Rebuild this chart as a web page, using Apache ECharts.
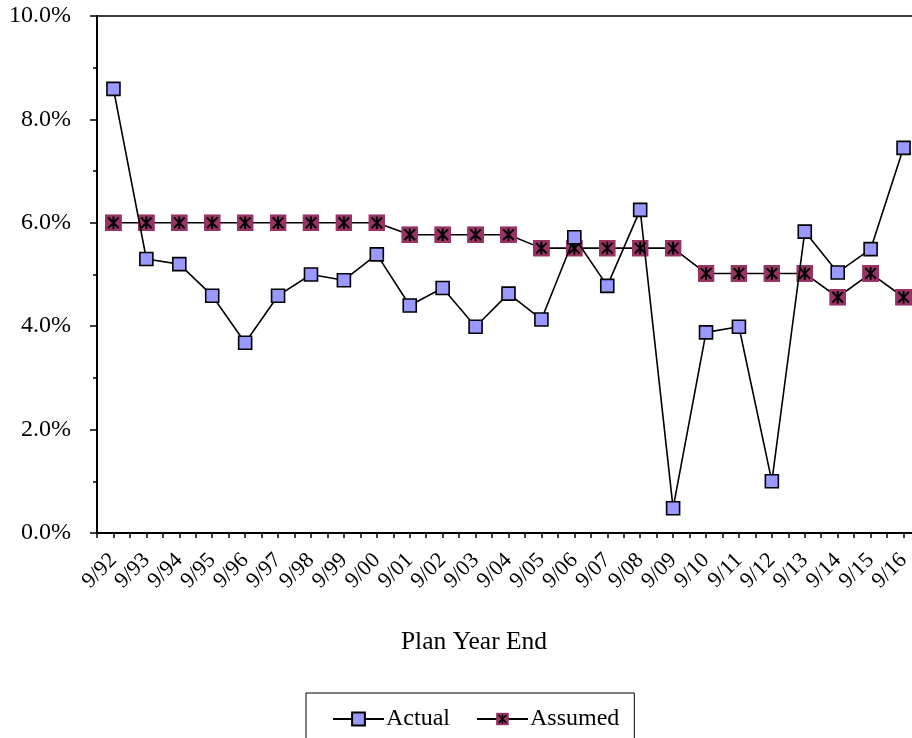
<!DOCTYPE html>
<html>
<head>
<meta charset="utf-8">
<script src="https://cdn.jsdelivr.net/npm/echarts@6/dist/echarts.min.js"></script>
<style>
  html, body { margin: 0; padding: 0; background: #fff; }
  #chart { width: 912px; height: 738px; }
</style>
</head>
<body>
<div id="chart"></div>
<script>
// Plan year ends, 9/92 through 9/16
const planYears = ['9/92','9/93','9/94','9/95','9/96','9/97','9/98','9/99','9/00','9/01',
  '9/02','9/03','9/04','9/05','9/06','9/07','9/08','9/09','9/10','9/11','9/12','9/13',
  '9/14','9/15','9/16'];

// Actual returns (%)
const actualReturns = [8.59, 5.30, 5.20, 4.59, 3.68, 4.59, 5.00, 4.89, 5.39, 4.40,
  4.74, 3.99, 4.63, 4.13, 5.72, 4.78, 6.25, 0.48, 3.88, 3.99, 1.00, 5.83,
  5.04, 5.49, 7.45];

// Assumed rates (%)
const assumedRates = [6.00, 6.00, 6.00, 6.00, 6.00, 6.00, 6.00, 6.00, 6.00, 5.77,
  5.77, 5.77, 5.77, 5.51, 5.51, 5.51, 5.51, 5.51, 5.02, 5.02, 5.02, 5.02,
  4.56, 5.02, 4.56];

const seriesNames = ['Actual', 'Assumed'];
const axisTitle = 'Plan Year End';

const FONT = '"Liberation Serif", "Times New Roman", serif';

// Maroon square with a black asterisk drawn over it
const assumedSvg = "<svg xmlns='http://www.w3.org/2000/svg' width='34' height='34' viewBox='0 0 17 17'>" +
  "<rect x='0' y='0' width='17' height='17' fill='#993366'/>" +
  "<path d='M3.2 3.2L13.8 13.8M13.8 3.2L3.2 13.8M8.5 2.2V14.8' stroke='#000' stroke-width='2' fill='none'/>" +
  "</svg>";
const assumedSymbol = 'image://data:image/svg+xml;charset=utf-8,' + encodeURIComponent(assumedSvg);

const chart = echarts.init(document.getElementById('chart'), null, { renderer: 'canvas' });

chart.setOption({
  backgroundColor: '#fff',
  animation: false,
  textStyle: { fontFamily: FONT, color: '#000' },
  grid: {
    // the plot area runs a little past the right edge of the canvas
    left: 97, top: 16, width: 823, bottom: 205,
    outerBoundsMode: 'none',
    containLabel: false,
    show: true, borderColor: '#000', borderWidth: 1.5, backgroundColor: 'transparent'
  },
  title: {
    text: axisTitle,
    left: 469, top: 624, textAlign: 'center',
    textStyle: { fontFamily: FONT, fontSize: 25.5, fontWeight: 'normal', color: '#000' }
  },
  legend: {
    data: seriesNames,
    left: 306, top: 693,
    padding: [14, 15, 20, 26],
    itemGap: 26,
    itemWidth: 51, itemHeight: 16,
    borderColor: '#000', borderWidth: 1,
    backgroundColor: '#fff',
    textStyle: { fontFamily: FONT, fontSize: 24, color: '#000', padding: [0, 0, 0, -3] }
  },
  xAxis: [
    {
      type: 'category',
      data: planYears,
      boundaryGap: true,
      axisLine: { lineStyle: { color: '#000', width: 2 } },
      axisTick: { show: true, interval: 0, length: 5, lineStyle: { color: '#000', width: 1.5 } },
      axisLabel: {
        interval: 0, rotate: 45, margin: 24,
        fontFamily: FONT, fontSize: 22, color: '#000'
      },
      splitLine: { show: false }
    },
    {
      // second copy of the category axis: ticks centred on each category
      type: 'category',
      data: planYears,
      position: 'bottom',
      boundaryGap: true,
      axisLine: { show: false },
      axisTick: { show: true, alignWithLabel: true, interval: 0, length: 5, lineStyle: { color: '#000', width: 1.5 } },
      axisLabel: { show: false },
      splitLine: { show: false }
    }
  ],
  yAxis: {
    type: 'value',
    min: 0, max: 10, interval: 2,
    axisLine: { show: true, lineStyle: { color: '#000', width: 2 } },
    axisTick: { show: true, length: 7, lineStyle: { color: '#000', width: 1.5 } },
    minorTick: { show: true, splitNumber: 2, length: 4, lineStyle: { color: '#000', width: 1.5 } },
    axisLabel: {
      margin: 26,
      fontFamily: FONT, fontSize: 24, color: '#000',
      formatter: v => v.toFixed(1) + '%'
    },
    splitLine: { show: false }
  },
  series: [
    {
      name: seriesNames[0],
      type: 'line',
      data: actualReturns,
      xAxisIndex: 0,
      symbol: 'rect',
      symbolSize: 13,
      z: 3,
      lineStyle: { color: '#000', width: 1.6 },
      itemStyle: { color: '#9999ff', borderColor: '#000', borderWidth: 1.6 }
    },
    {
      name: seriesNames[1],
      type: 'line',
      data: assumedRates,
      xAxisIndex: 0,
      symbol: assumedSymbol,
      symbolSize: 17,
      z: 2,
      lineStyle: { color: '#000', width: 1.6 },
      itemStyle: { color: '#993366' }
    }
  ]
});
</script>
</body>
</html>
